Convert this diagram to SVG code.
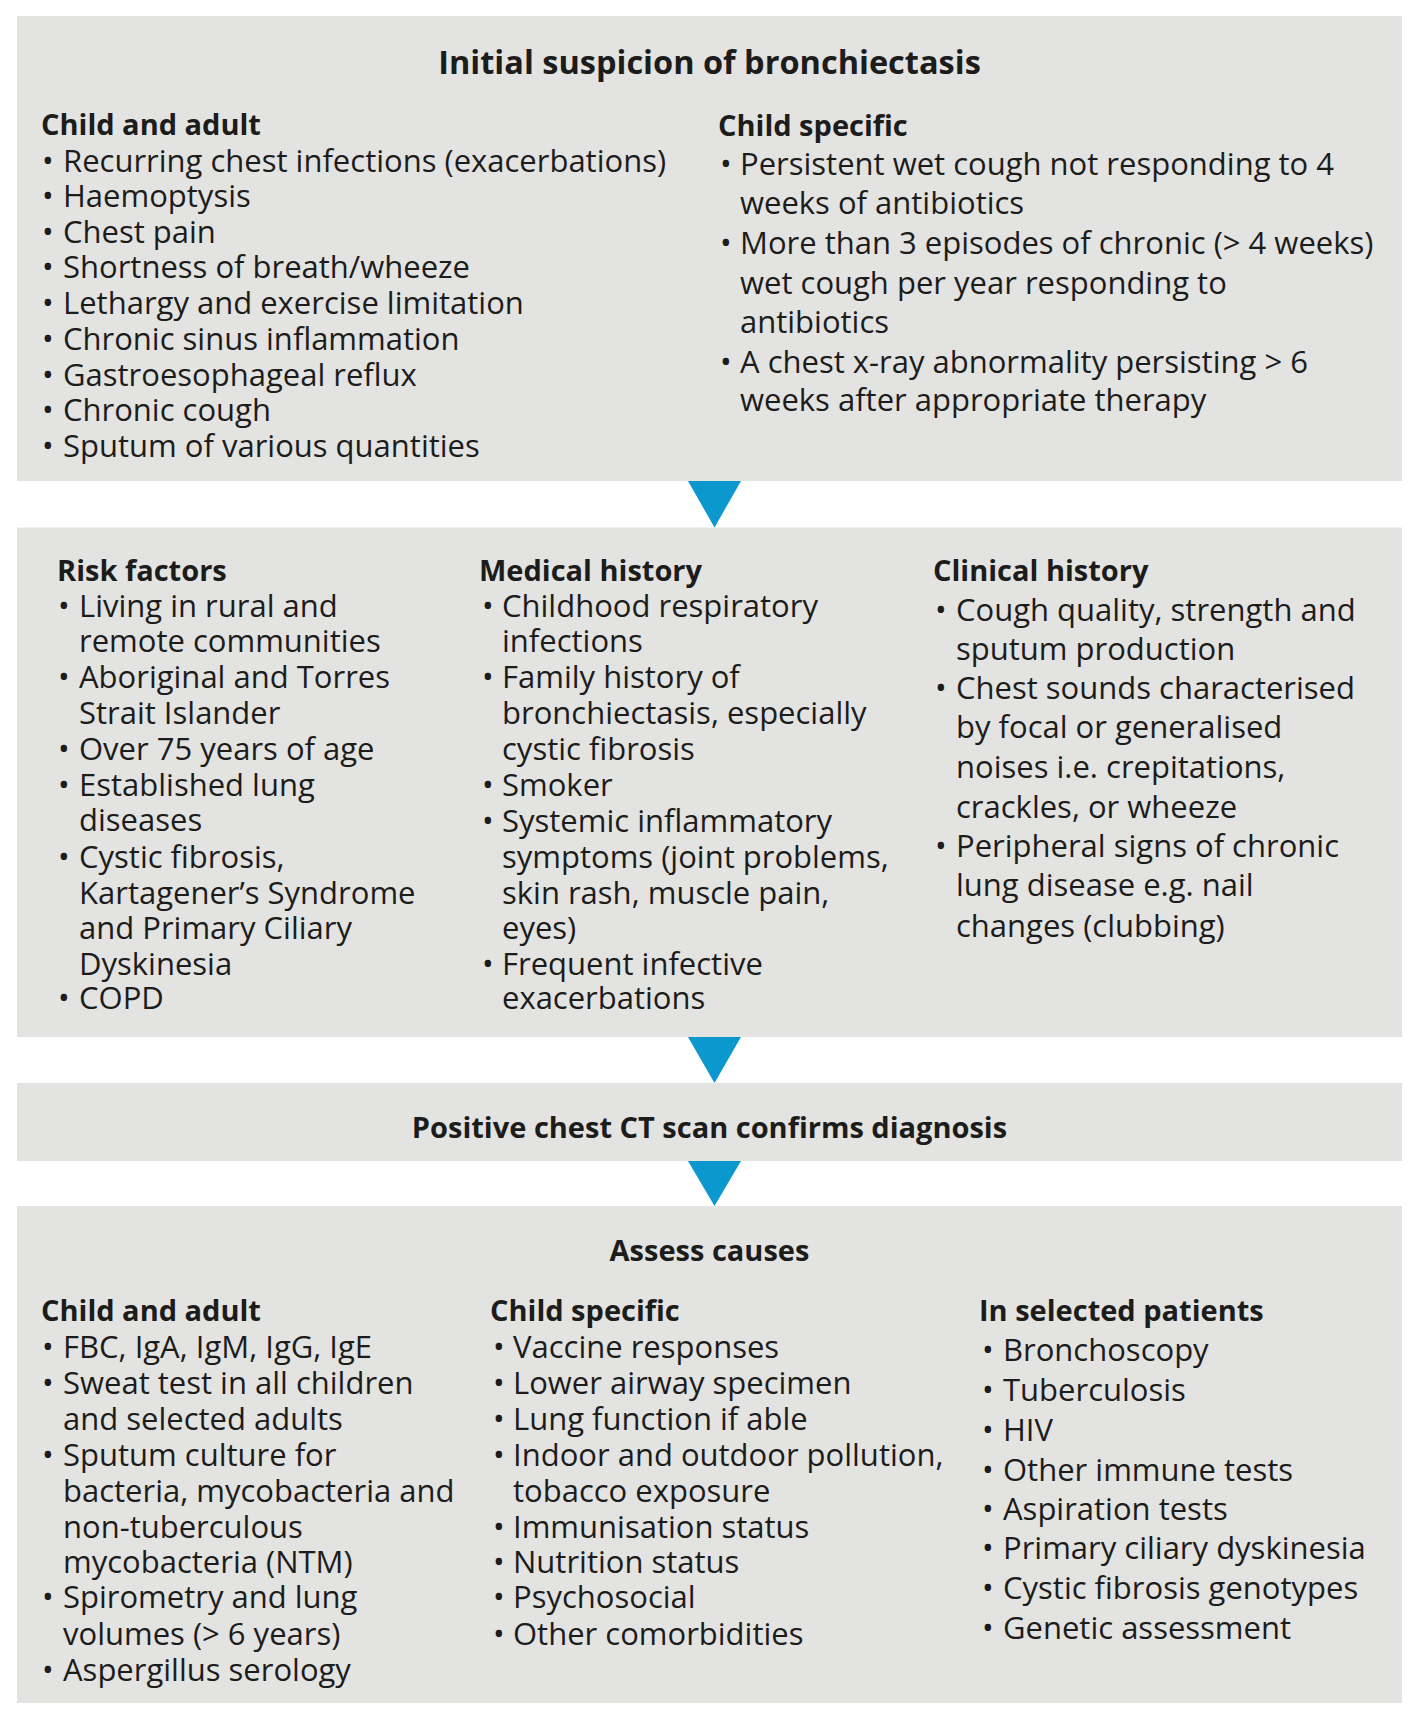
<svg xmlns="http://www.w3.org/2000/svg" width="1420" height="1720" viewBox="0 0 1420 1720">
<style>
.box{fill:#e3e3e2}
.t{font-family:"Open Sans","Noto Sans","Liberation Sans",sans-serif;fill:#1c1c1b}
.title{font-size:32.5px;font-weight:700}
.h{font-size:29px;font-weight:700}
.i{font-size:31px}
.arrow{fill:#0a98cf}
</style>
<rect width="1420" height="1720" fill="#ffffff"/>
<g id="node-initial">
<rect class="box" x="17" y="16" width="1385" height="465"/>
<text class="t title" x="709.5" y="74" text-anchor="middle">Initial suspicion of bronchiectasis</text>
<text class="t h" x="41" y="135">Child and adult</text>
<g class="t i">
<text y="171.7"><tspan x="42">•</tspan><tspan x="63">Recurring chest infections (exacerbations)</tspan></text>
<text y="206.7"><tspan x="42">•</tspan><tspan x="63">Haemoptysis</tspan></text>
<text y="242.7"><tspan x="42">•</tspan><tspan x="63">Chest pain</tspan></text>
<text y="277.7"><tspan x="42">•</tspan><tspan x="63">Shortness of breath/wheeze</tspan></text>
<text y="314"><tspan x="42">•</tspan><tspan x="63">Lethargy and exercise limitation</tspan></text>
<text y="350"><tspan x="42">•</tspan><tspan x="63">Chronic sinus inflammation</tspan></text>
<text y="386"><tspan x="42">•</tspan><tspan x="63">Gastroesophageal reflux</tspan></text>
<text y="420.7"><tspan x="42">•</tspan><tspan x="63">Chronic cough</tspan></text>
<text y="456.7"><tspan x="42">•</tspan><tspan x="63">Sputum of various quantities</tspan></text>
</g>
<text class="t h" x="718" y="135.7">Child specific</text>
<g class="t i">
<text y="175"><tspan x="720">•</tspan><tspan x="740">Persistent wet cough not responding to 4</tspan><tspan x="740" y="214">weeks of antibiotics</tspan></text>
<text y="254"><tspan x="720">•</tspan><tspan x="740">More than 3 episodes of chronic (&gt; 4 weeks)</tspan><tspan x="740" y="293.6">wet cough per year responding to</tspan><tspan x="740" y="333">antibiotics</tspan></text>
<text y="373"><tspan x="720">•</tspan><tspan x="740">A chest x-ray abnormality persisting &gt; 6</tspan><tspan x="740" y="411.4">weeks after appropriate therapy</tspan></text>
</g>
</g>
<g id="node-history">
<rect class="box" x="17" y="527.5" width="1385" height="509.5"/>
<text class="t h" x="57" y="581">Risk factors</text>
<g class="t i">
<text y="617"><tspan x="58">•</tspan><tspan x="79">Living in rural and</tspan><tspan x="79" y="652">remote communities</tspan></text>
<text y="688"><tspan x="58">•</tspan><tspan x="79">Aboriginal and Torres</tspan><tspan x="79" y="724">Strait Islander</tspan></text>
<text y="760"><tspan x="58">•</tspan><tspan x="79">Over 75 years of age</tspan></text>
<text y="796"><tspan x="58">•</tspan><tspan x="79">Established lung</tspan><tspan x="79" y="831">diseases</tspan></text>
<text y="868"><tspan x="58">•</tspan><tspan x="79">Cystic fibrosis,</tspan><tspan x="79" y="904">Kartagener’s Syndrome</tspan><tspan x="79" y="939">and Primary Ciliary</tspan><tspan x="79" y="975">Dyskinesia</tspan></text>
<text y="1009"><tspan x="58">•</tspan><tspan x="79">COPD</tspan></text>
</g>
<text class="t h" x="479" y="581">Medical history</text>
<g class="t i">
<text y="617"><tspan x="482">•</tspan><tspan x="502">Childhood respiratory</tspan><tspan x="502" y="652">infections</tspan></text>
<text y="688"><tspan x="482">•</tspan><tspan x="502">Family history of</tspan><tspan x="502" y="724">bronchiectasis, especially</tspan><tspan x="502" y="760">cystic fibrosis</tspan></text>
<text y="796"><tspan x="482">•</tspan><tspan x="502">Smoker</tspan></text>
<text y="832"><tspan x="482">•</tspan><tspan x="502">Systemic inflammatory</tspan><tspan x="502" y="868">symptoms (joint problems,</tspan><tspan x="502" y="904">skin rash, muscle pain,</tspan><tspan x="502" y="939">eyes)</tspan></text>
<text y="975"><tspan x="482">•</tspan><tspan x="502">Frequent infective</tspan><tspan x="502" y="1009">exacerbations</tspan></text>
</g>
<text class="t h" x="933" y="581">Clinical history</text>
<g class="t i">
<text y="621"><tspan x="935">•</tspan><tspan x="956">Cough quality, strength and</tspan><tspan x="956" y="660">sputum production</tspan></text>
<text y="699"><tspan x="935">•</tspan><tspan x="956">Chest sounds characterised</tspan><tspan x="956" y="738">by focal or generalised</tspan><tspan x="956" y="778">noises i.e. crepitations,</tspan><tspan x="956" y="818">crackles, or wheeze</tspan></text>
<text y="857"><tspan x="935">•</tspan><tspan x="956">Peripheral signs of chronic</tspan><tspan x="956" y="896">lung disease e.g. nail</tspan><tspan x="956" y="937">changes (clubbing)</tspan></text>
</g>
</g>
<g id="node-ct">
<rect class="box" x="17" y="1083" width="1385" height="78"/>
<text class="t h" x="709.5" y="1138" text-anchor="middle">Positive chest CT scan confirms diagnosis</text>
</g>
<g id="node-causes">
<rect class="box" x="17" y="1206" width="1385" height="497"/>
<text class="t h" x="709.5" y="1261" text-anchor="middle">Assess causes</text>
<text class="t h" x="41" y="1321">Child and adult</text>
<g class="t i">
<text y="1358"><tspan x="42">•</tspan><tspan x="63">FBC, IgA, IgM, IgG, IgE</tspan></text>
<text y="1394"><tspan x="42">•</tspan><tspan x="63">Sweat test in all children</tspan><tspan x="63" y="1429.5">and selected adults</tspan></text>
<text y="1466"><tspan x="42">•</tspan><tspan x="63">Sputum culture for</tspan><tspan x="63" y="1502">bacteria, mycobacteria and</tspan><tspan x="63" y="1538">non-tuberculous</tspan><tspan x="63" y="1573">mycobacteria (NTM)</tspan></text>
<text y="1608"><tspan x="42">•</tspan><tspan x="63">Spirometry and lung</tspan><tspan x="63" y="1645">volumes (&gt; 6 years)</tspan></text>
<text y="1681"><tspan x="42">•</tspan><tspan x="63">Aspergillus serology</tspan></text>
</g>
<text class="t h" x="490" y="1321">Child specific</text>
<g class="t i">
<text y="1358"><tspan x="493">•</tspan><tspan x="513">Vaccine responses</tspan></text>
<text y="1394"><tspan x="493">•</tspan><tspan x="513">Lower airway specimen</tspan></text>
<text y="1429.5"><tspan x="493">•</tspan><tspan x="513">Lung function if able</tspan></text>
<text y="1466"><tspan x="493">•</tspan><tspan x="513">Indoor and outdoor pollution,</tspan><tspan x="513" y="1502">tobacco exposure</tspan></text>
<text y="1538"><tspan x="493">•</tspan><tspan x="513">Immunisation status</tspan></text>
<text y="1573"><tspan x="493">•</tspan><tspan x="513">Nutrition status</tspan></text>
<text y="1608"><tspan x="493">•</tspan><tspan x="513">Psychosocial</tspan></text>
<text y="1645"><tspan x="493">•</tspan><tspan x="513">Other comorbidities</tspan></text>
</g>
<text class="t h" x="979" y="1321">In selected patients</text>
<g class="t i">
<text y="1361"><tspan x="982">•</tspan><tspan x="1003">Bronchoscopy</tspan></text>
<text y="1401"><tspan x="982">•</tspan><tspan x="1003">Tuberculosis</tspan></text>
<text y="1441"><tspan x="982">•</tspan><tspan x="1003">HIV</tspan></text>
<text y="1481"><tspan x="982">•</tspan><tspan x="1003">Other immune tests</tspan></text>
<text y="1520"><tspan x="982">•</tspan><tspan x="1003">Aspiration tests</tspan></text>
<text y="1559"><tspan x="982">•</tspan><tspan x="1003">Primary ciliary dyskinesia</tspan></text>
<text y="1599"><tspan x="982">•</tspan><tspan x="1003">Cystic fibrosis genotypes</tspan></text>
<text y="1639"><tspan x="982">•</tspan><tspan x="1003">Genetic assessment</tspan></text>
</g>
</g>
<g id="connectors">
<polygon class="arrow" points="688,481 741,481 714.5,527.5"/>
<polygon class="arrow" points="688,1037 741,1037 714.5,1083"/>
<polygon class="arrow" points="688,1161 741,1161 714.5,1206"/>
</g>
</svg>
